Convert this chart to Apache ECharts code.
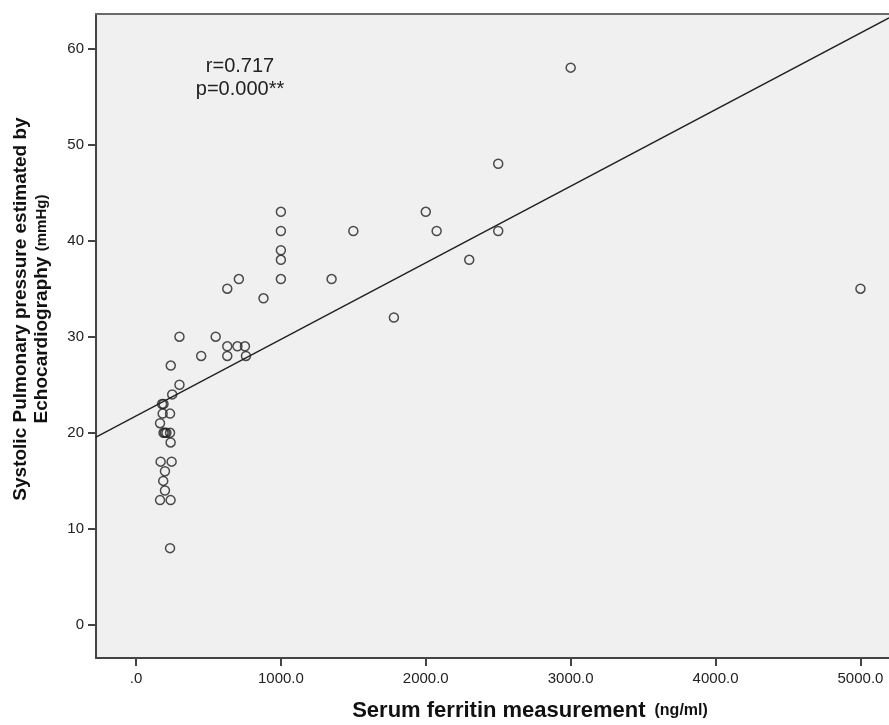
<!DOCTYPE html>
<html>
<head>
<meta charset="utf-8">
<script src="https://cdn.jsdelivr.net/npm/echarts@6/dist/echarts.min.js"></script>
<style>
  html, body { margin: 0; padding: 0; background: #ffffff; }
  #chart { width: 889px; height: 725px; }
</style>
</head>
<body>
<div id="chart"></div>
<script>
// ferritin (ng/ml) vs systolic pulmonary pressure (mmHg)
var ferritin = [
    3000, 2500, 1000, 2000, 1000, 1500, 2075, 2500, 1000, 1000, 2300,
    710, 1000, 1350, 630, 880, 1780, 5000,
    300, 550, 450, 630, 700, 752, 630, 759,
    240, 300, 250, 180, 190, 184, 235, 166,
    190, 200, 210, 235, 239, 170, 246, 200, 188, 200, 166, 239, 235
];
var pressure = [
    58, 48, 43, 43, 41, 41, 41, 41, 39, 38, 38,
    36, 36, 36, 35, 34, 32, 35,
    30, 30, 28, 29, 29, 29, 28, 28,
    27, 25, 24, 23, 23, 22, 22, 21,
    20, 20, 20, 20, 19, 17, 17, 16, 15, 14, 13, 13, 8
];
// fit line end points, read where it meets the frame
var fitLine = [[-276, 19.56], [5197, 63.18]];
var xTicks = [0, 1000, 2000, 3000, 4000, 5000];
var yTicks = [0, 10, 20, 30, 40, 50, 60];

var points = [];
for (var i = 0; i < ferritin.length; i++) {
    points.push([ferritin[i], pressure[i]]);
}

var chart = echarts.init(document.getElementById('chart'));
var option = {
    backgroundColor: '#ffffff',
    animation: false,
    grid: {
        left: 96, right: 0, top: 14, bottom: 67,
        show: true,
        backgroundColor: '#f0f0f0',
        borderWidth: 0
    },
    xAxis: [
        {
            type: 'value',
            min: -276, max: 5197,
            splitLine: { show: false },
            axisLine: { onZero: false, lineStyle: { color: '#444', width: 2 } },
            axisTick: { customValues: xTicks, length: 8, lineStyle: { color: '#444', width: 2 } },
            axisLabel: {
                customValues: xTicks,
                margin: 13,
                fontFamily: 'Liberation Sans',
                fontSize: 15,
                color: '#222',
                formatter: function (v) { return v === 0 ? '.0' : v.toFixed(1); }
            }
        },
        {
            // top edge of the frame only
            type: 'value',
            position: 'top',
            min: -276, max: 5197,
            splitLine: { show: false },
            axisLine: { onZero: false, lineStyle: { color: '#6a6a6a', width: 2 } },
            axisTick: { show: false },
            axisLabel: { show: false }
        }
    ],
    yAxis: {
        type: 'value',
        min: -3.43, max: 63.58,
        splitLine: { show: false },
        axisLine: { onZero: false, lineStyle: { color: '#444', width: 2 } },
        axisTick: { customValues: yTicks, length: 8, lineStyle: { color: '#444', width: 2 } },
        axisLabel: {
            customValues: yTicks,
            margin: 12,
            fontFamily: 'Liberation Sans',
            fontSize: 15,
            color: '#222'
        }
    },
    series: [
        {
            type: 'line',
            data: fitLine,
            symbol: 'none',
            silent: true,
            lineStyle: { color: '#222', width: 1.4 }
        },
        {
            type: 'scatter',
            data: points,
            symbol: 'circle',
            symbolSize: 9,
            itemStyle: { color: 'rgba(0,0,0,0)', borderColor: '#222', borderWidth: 1.5 }
        }
    ],
    graphic: [
        {
            type: 'text',
            x: 240, y: 78,
            style: {
                text: 'r=0.717\np=0.000**',
                align: 'center', verticalAlign: 'middle',
                font: '20px "Liberation Sans"',
                lineHeight: 23,
                fill: '#222'
            }
        },
        {
            type: 'text',
            x: 530, y: 711,
            style: {
                text: '{a|Serum ferritin measurement}{b|  (ng/ml)}',
                align: 'center', verticalAlign: 'middle',
                rich: {
                    a: { font: 'bold 22px "Liberation Sans"', fill: '#111' },
                    b: { font: 'bold 16px "Liberation Sans"', fill: '#111' }
                }
            }
        },
        {
            type: 'text',
            x: 31, y: 309,
            rotation: Math.PI / 2,
            style: {
                text: '{a|Systolic Pulmonary pressure estimated by}\n{a|Echocardiography }{b|(mmHg)}',
                align: 'center', verticalAlign: 'middle',
                lineHeight: 21,
                rich: {
                    a: { font: 'bold 19px "Liberation Sans"', fill: '#111', lineHeight: 21 },
                    b: { font: 'bold 15px "Liberation Sans"', fill: '#111', lineHeight: 21 }
                }
            }
        }
    ]
};
chart.setOption(option);
</script>
</body>
</html>
